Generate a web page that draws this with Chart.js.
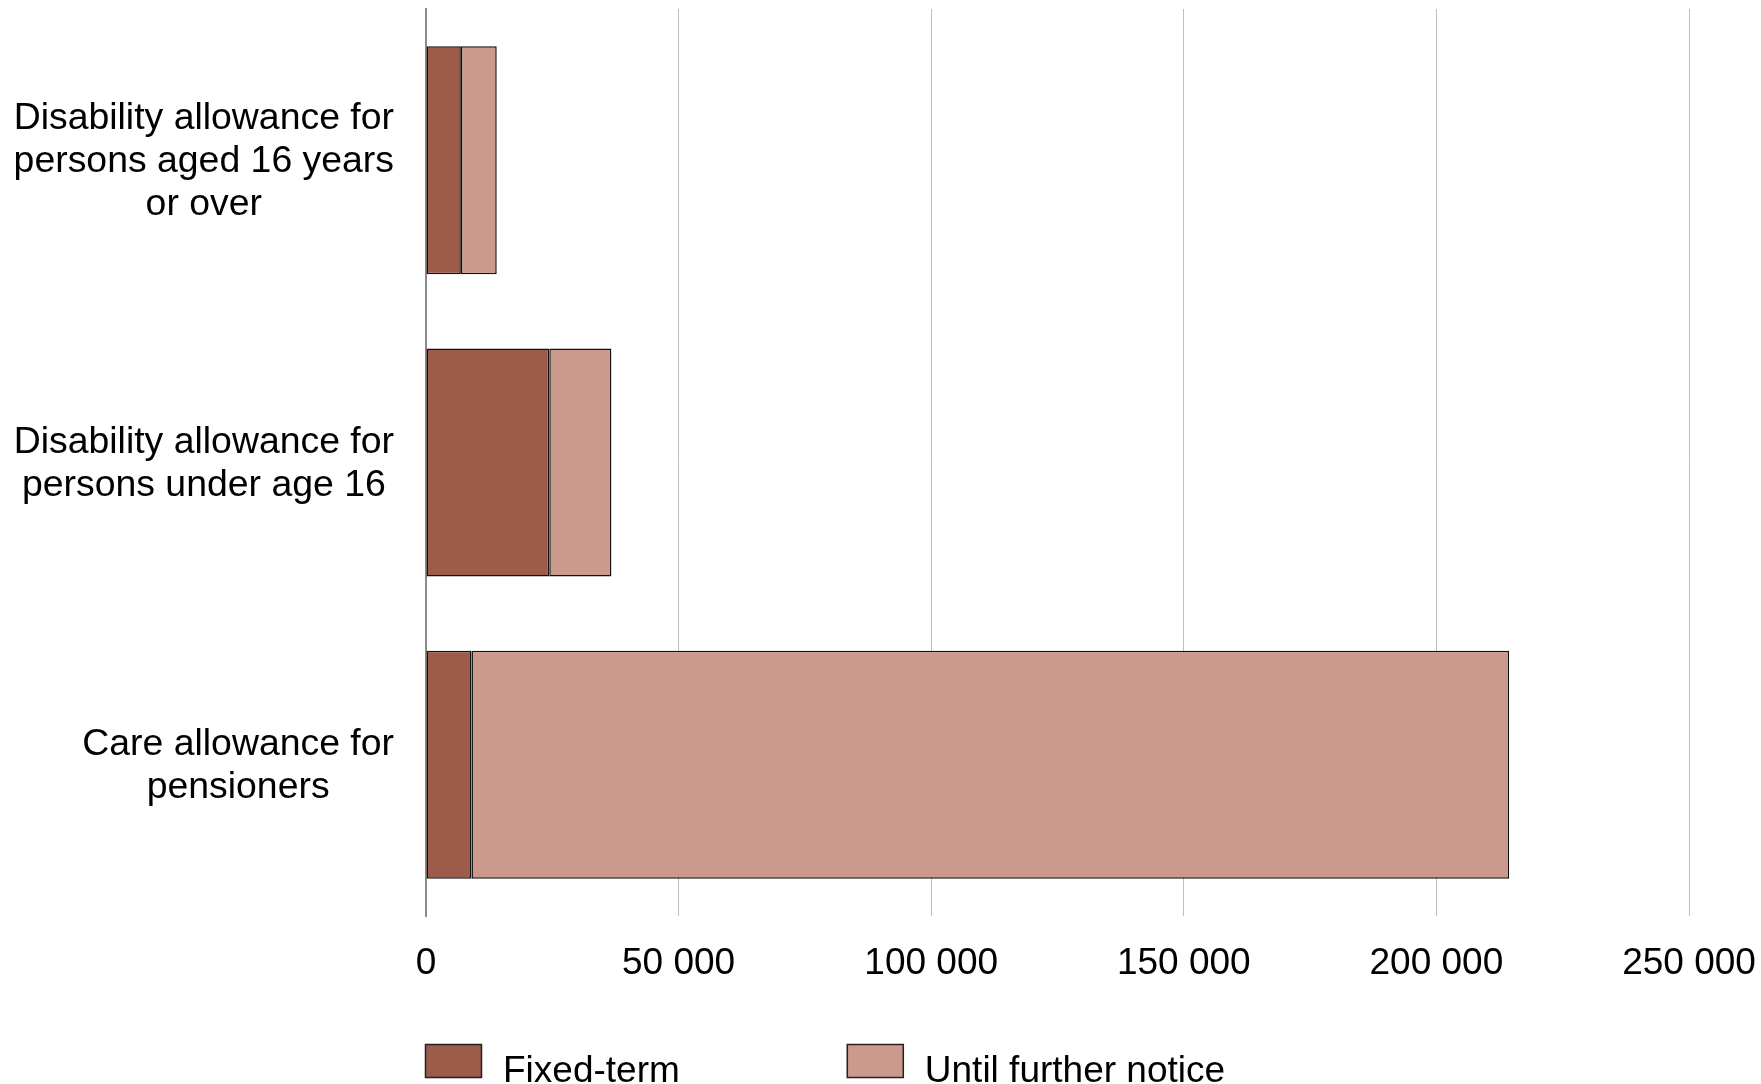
<!DOCTYPE html>
<html><head><meta charset="utf-8">
<script src="https://cdn.jsdelivr.net/npm/chart.js@4.4.1/dist/chart.umd.min.js"></script>
<style>html,body{margin:0;padding:0;background:#fff;}</style>
</head><body>
<canvas id="c" width="1761" height="1084"></canvas>
<script>
const categories = [
  ["Disability allowance for", "persons aged 16 years", "or over"],
  ["Disability allowance for", "persons under age 16"],
  ["Care allowance for", "pensioners"]
];
const seriesNames = ["Fixed-term", "Until further notice"];
const fixedTerm = [6900, 24400, 9000];
const untilFurtherNotice = [7100, 12300, 205400];
const xTickValues = [0, 50000, 100000, 150000, 200000, 250000];

const FONT = '"Liberation Sans", Arial, sans-serif';
const colors = ["#9D5B4A", "#CB9A8C"];

function fmt(v) { return String(v).replace(/\B(?=(\d{3})+(?!\d))/g, " "); }

const yLabelPlugin = {
  id: 'yLabels',
  afterDraw(chart) {
    const ctx = chart.ctx, ys = chart.scales.y;
    ctx.save();
    ctx.font = '37.4px ' + FONT;
    ctx.fillStyle = '#000';
    ctx.textAlign = 'center';
    ctx.textBaseline = 'middle';
    const lh = 43, right = 394;
    chart.data.labels.forEach((lines, i) => {
      const cy = ys.getPixelForTick(i) + 1.5;
      const w = Math.max(...lines.map(l => ctx.measureText(l).width));
      const cx = right - w / 2;
      lines.forEach((l, j) => ctx.fillText(l, cx, cy + (j - (lines.length - 1) / 2) * lh));
    });
    ctx.restore();
  }
};

const legendPlugin = {
  id: 'customLegend',
  afterDraw(chart) {
    const ctx = chart.ctx;
    ctx.save();
    ctx.font = '37px ' + FONT;
    let x = 425;
    const boxW = 57, boxH = 34, boxY = 1044, gap = 21, itemGap = 167, baseY = 1082;
    chart.data.datasets.forEach(ds => {
      ctx.fillStyle = ds.backgroundColor;
      ctx.fillRect(x, boxY, boxW, boxH);
      ctx.strokeStyle = '#222';
      ctx.lineWidth = 1.5;
      ctx.strokeRect(x + 0.5, boxY + 0.5, boxW - 1, boxH - 1);
      ctx.fillStyle = '#000';
      ctx.textAlign = 'left';
      ctx.textBaseline = 'alphabetic';
      ctx.fillText(ds.label, x + boxW + gap, baseY);
      x += boxW + gap + ctx.measureText(ds.label).width + itemGap;
    });
    ctx.restore();
  }
};

new Chart(document.getElementById('c'), {
  type: 'bar',
  data: {
    labels: categories,
    datasets: [
      { label: seriesNames[0], data: fixedTerm, backgroundColor: colors[0], borderColor: '#111', borderWidth: 1.5, borderSkipped: false },
      { label: seriesNames[1], data: untilFurtherNotice, backgroundColor: colors[1], borderColor: '#111', borderWidth: 1.5, borderSkipped: false }
    ]
  },
  options: {
    indexAxis: 'y',
    responsive: false,
    animation: false,
    devicePixelRatio: 1,
    layout: { padding: { top: 9, right: 72, left: 0, bottom: 0 } },
    datasets: { bar: { barPercentage: 0.754, categoryPercentage: 1 } },
    plugins: { legend: { display: false }, tooltip: { enabled: false } },
    scales: {
      x: {
        stacked: true,
        min: 0, max: 250000,
        afterBuildTicks: s => { s.ticks = xTickValues.map(v => ({ value: v })); },
        ticks: { callback: v => fmt(v), color: '#000', font: { family: FONT, size: 37 }, padding: 26, maxRotation: 0 },
        grid: { color: '#BFBFBF', lineWidth: 1, drawTicks: false },
        border: { display: false },
        afterFit: s => { s.height = 168; s.paddingLeft = 0; s.paddingRight = 0; }
      },
      y: {
        stacked: true,
        ticks: { display: false },
        grid: { display: false, drawTicks: false },
        border: { display: true, color: '#8C8C8C', width: 2 },
        afterFit: s => { s.width = 426; s.paddingTop = 0; s.paddingBottom = 0; }
      }
    }
  },
  plugins: [yLabelPlugin, legendPlugin]
});
</script>
</body></html>
